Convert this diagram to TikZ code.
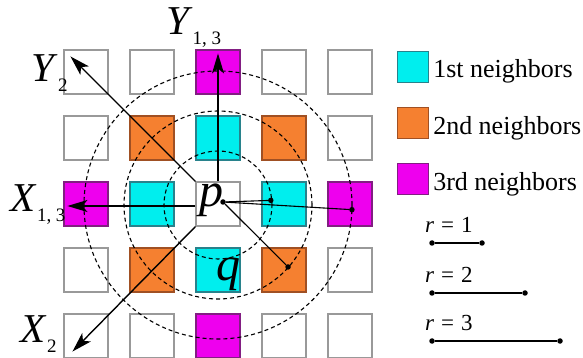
\documentclass[tikz,border=0pt]{standalone}
\usepackage{fontspec}
\setmainfont{Liberation Serif}
\usetikzlibrary{positioning, arrows.meta}

\definecolor{nbcyan}{RGB}{0,238,238}
\definecolor{nbcyanD}{RGB}{40,130,140}
\definecolor{nborange}{RGB}{245,128,48}
\definecolor{nborangeD}{RGB}{160,80,35}
\definecolor{nbmagenta}{RGB}{238,0,238}
\definecolor{nbmagentaD}{RGB}{130,30,130}

\newcommand\axislbl[2]{\textit{#1}\raisebox{-10pt}{\fontsize{19}{19}\selectfont #2}}

\begin{document}
\begin{tikzpicture}[
            x=66pt, y=66pt,
            cell/.style={rectangle, draw=gray!80, line width=1.1pt, minimum size=44pt, inner sep=0pt},
            nb1/.style={fill=nbcyan, draw=nbcyanD},
            nb2/.style={fill=nborange, draw=nborangeD},
            nb4/.style={fill=nbmagenta, draw=nbmagentaD},
            key/.style={cell, minimum size=31pt},
            ring/.style={draw, dash pattern=on 4pt off 3pt, line width=1.1pt},
            axis/.style={-{Stealth[length=20pt, width=12pt, inset=5pt]}, line width=1.4pt},
            meas/.style={line width=1.1pt},
            dot/.style={circle, fill, inner sep=0pt, minimum size=5.5pt},
            var/.style={font=\fontsize{48}{48}\selectfont\itshape, inner sep=0pt},
            axlbl/.style={font=\fontsize{41}{41}\selectfont, inner sep=0pt, anchor=base west},
            keytxt/.style={font=\fontsize{26}{26}\selectfont, inner sep=0pt, anchor=base west},
            rtxt/.style={font=\fontsize{23}{23}\selectfont, inner sep=0pt, anchor=base west}
        ]
            \useasboundingbox (-218pt,-154pt) rectangle (365pt,204pt);

            % --- grid of pixels, coloured by squared distance to p ---
            \foreach \i in {0,...,4} {
              \foreach \j in {0,...,4} {
                \pgfmathtruncatemacro\dd{(\i-2)*(\i-2)+(\j-2)*(\j-2)}
                \node[cell, nb\dd/.try] (c\i\j) at (\i-2, 2-\j) {};
              }
            }

            % --- rings r = 1, 2, 3 ---
            \coordinate (o) at ([yshift=-1pt]c22.center);
            \draw[ring] (o) circle (54pt);
            \draw[ring] (o) circle (94pt);
            \draw[ring] (o) circle (134pt);

            % --- p, q ---
            \node[var, xshift=-7pt, yshift=4pt] (p) at (c22) {p};
            \node[var, xshift=10pt, yshift=-4pt] (q) at (c23) {q};

            % --- axes ---
            \coordinate (ytip) at ([yshift=-4pt]c20.north);
            \coordinate (y2tip) at ([shift={(7pt,-7pt)}]c00.north west);
            \coordinate (xtip) at ([shift={(4pt,-2pt)}]c02.west);
            \coordinate (x2tip) at ([shift={(9pt,7pt)}]c04.south west);
            \draw[axis] (c22.north) -- (ytip);
            \draw[axis] (c22.north west) -- (y2tip);
            \draw[axis] ([yshift=-2pt]c22.west) -- (xtip);
            \draw[axis] (c22.south west) -- (x2tip);

            \node[axlbl] (ly13) at ([shift={(-52pt,15pt)}]c20.north) {\axislbl{Y}{1, 3}};
            \node[axlbl] (ly2) at ([shift={(-32pt,-10pt)}]c00.west) {\axislbl{Y}{2}};
            \node[axlbl] (lx13) at ([shift={(-53pt,-8pt)}]c02.west) {\axislbl{X}{1, 3}};
            \node[axlbl] (lx2) at ([shift={(-43pt,-7pt)}]c04.west) {\axislbl{X}{2}};

            % --- distances from p ---
            \node[dot] (pc) at ([shift={(5pt,2pt)}]c22.center) {};
            \node[dot] (d1) at ([shift={(5:53pt)}]o) {};
            \node[dot] (d2) at ([shift={(-41.5:93.5pt)}]o) {};
            \node[dot] (d3) at ([shift={(-2:134pt)}]o) {};
            \draw[meas] (pc) -- (d1);
            \draw[meas] (pc) -- (d2);
            \draw[meas] (pc) -- (d3);

            % --- legend ---
            \node[key, nb1] (k1) at (195pt,137pt) {};
            \node[key, nb2, below=24pt of k1] (k2) {};
            \node[key, nb4, below=24pt of k2] (k3) {};
            \node[keytxt] (t1) at ([shift={(4pt,-11pt)}]k1.east) {1st neighbors};
            \node[keytxt] (t2) at ([shift={(4pt,-11pt)}]k2.east) {2nd neighbors};
            \node[keytxt] (t3) at ([shift={(4pt,-11pt)}]k3.east) {3rd neighbors};

            \foreach \r/\len/\y in {1/50/-39, 2/93/-89, 3/128/-137} {
              \node[rtxt] (r\r) at (207pt,\y pt+10pt) {\textit{r}\hspace{7pt}=\hspace{7pt}\r};
              \node[dot] (ra\r) at (214pt,\y pt) {};
              \node[dot] (rb\r) at (214pt+\len pt,\y pt) {};
              \draw[meas] (ra\r) -- (rb\r);
            }

        \end{tikzpicture}
\end{document}
